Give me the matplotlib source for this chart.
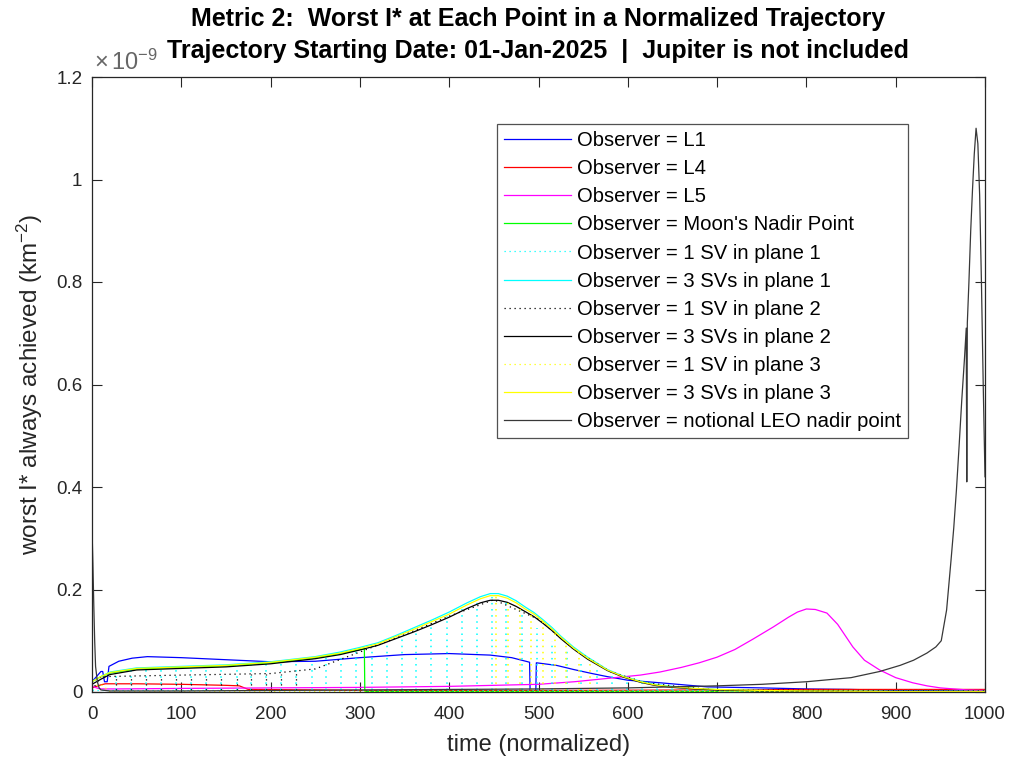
import matplotlib
matplotlib.use("Agg")
import matplotlib.pyplot as plt
import numpy as np

plt.rcParams['font.family'] = ['Liberation Sans', 'DejaVu Sans']
plt.rcParams['mathtext.fontset'] = 'custom'
plt.rcParams['mathtext.rm'] = 'Liberation Sans'
plt.rcParams['mathtext.it'] = 'Liberation Sans:italic'
plt.rcParams['mathtext.bf'] = 'Liberation Sans:bold'

# ---------------- data (values in units of 1e-9 km^-2) ----------------
l1_x = [0, 5, 10, 12, 14, 17, 19, 30, 45, 62, 100, 150, 200, 250, 300, 350, 400, 446, 470, 488,
        490, 490.6, 497, 497.6, 520, 532, 539, 560, 577, 600, 636, 689, 750, 800, 850, 900, 1000]
l1_y = [0.02, 0.03, 0.04, 0.04, 0.02, 0.02, 0.05, 0.060, 0.066, 0.069, 0.067, 0.063, 0.059, 0.060,
        0.067, 0.073, 0.075, 0.072, 0.067, 0.059, 0.058, 0.002, 0.002, 0.057, 0.052, 0.047, 0.044,
        0.036, 0.030, 0.023, 0.018, 0.010, 0.008, 0.006, 0.005, 0.003, 0.002]

l4_x = [0, 10, 15, 50, 100, 150, 165, 175, 250, 300, 500, 700, 800, 900, 1000]
l4_y = [0.008, 0.014, 0.016, 0.016, 0.015, 0.013, 0.012, 0.005, 0.004, 0.003, 0.003, 0.004,
        0.005, 0.005, 0.005]

l5_x = [0, 5, 10, 30, 100, 200, 300, 400, 450, 500, 540, 580, 614, 636, 660, 680, 700, 720,
        740, 763, 780, 790, 800, 810, 823, 835, 852, 865, 882, 900, 919, 935, 950, 980, 1000]
l5_y = [0.012, 0.008, 0.006, 0.006, 0.007, 0.008, 0.009, 0.011, 0.013, 0.015, 0.020, 0.027,
        0.033, 0.039, 0.048, 0.057, 0.068, 0.083, 0.103, 0.127, 0.146, 0.156, 0.162, 0.161,
        0.154, 0.132, 0.088, 0.062, 0.043, 0.028, 0.018, 0.012, 0.008, 0.004, 0.003]

moon_x = [0, 10, 20, 50, 100, 150, 200, 250, 278, 300, 305, 305.5, 400, 500, 600, 700, 701, 1000]
moon_y = [0.02, 0.03, 0.037, 0.045, 0.048, 0.051, 0.057, 0.067, 0.075, 0.083, 0.084, 0.001,
          0.001, 0.001, 0.001, 0.001, 0.0, 0.0]

env_x = [0, 5, 10, 20, 50, 100, 150, 200, 250, 278, 300, 320, 340, 360, 380, 400, 420, 435,
         446, 455, 465, 475, 485, 495, 505, 515, 525, 539, 555, 577, 595, 614, 630, 650, 675,
         700, 750, 800, 900, 1000]
sv3p3_y = [0.020, 0.025, 0.030, 0.038, 0.046, 0.049, 0.052, 0.058, 0.068, 0.076, 0.085, 0.094,
           0.108, 0.122, 0.137, 0.152, 0.170, 0.182, 0.188, 0.188, 0.183, 0.174, 0.162, 0.152,
           0.138, 0.123, 0.107, 0.086, 0.066, 0.043, 0.030, 0.020, 0.014, 0.010, 0.007, 0.005,
           0.003, 0.002, 0.001, 0.001]
sv3p2_y = [0.015, 0.020, 0.025, 0.034, 0.043, 0.046, 0.049, 0.055, 0.065, 0.073, 0.082, 0.091,
           0.104, 0.117, 0.131, 0.146, 0.163, 0.174, 0.179, 0.179, 0.175, 0.167, 0.157, 0.147,
           0.134, 0.120, 0.104, 0.084, 0.064, 0.042, 0.029, 0.019, 0.013, 0.009, 0.006, 0.004,
           0.002, 0.002, 0.001, 0.001]
sv3p1_y = [0.020, 0.025, 0.030, 0.039, 0.047, 0.050, 0.053, 0.059, 0.069, 0.078, 0.087, 0.096,
           0.110, 0.125, 0.140, 0.156, 0.174, 0.186, 0.192, 0.192, 0.187, 0.178, 0.166, 0.155,
           0.141, 0.126, 0.109, 0.088, 0.068, 0.044, 0.031, 0.021, 0.015, 0.011, 0.007, 0.005,
           0.003, 0.002, 0.001, 0.001]

# 1 SV in plane 1 (cyan dotted): rapid oscillation between baseline and spike tops
sv1p1_x = [0, 1000]
sv1p1_y = [0.003, 0.003]
sv1p1_spk_x = [27, 44, 61, 77, 94, 111, 128, 145, 162, 178, 195, 212, 229, 246, 262, 279, 296,
               313, 330, 347, 363, 380, 397, 414, 431, 448, 464, 481, 498, 515, 532, 548, 565,
               582, 599, 616, 633, 649, 666, 683]
sv1p1_spk_top = [0.036, 0.042, 0.045, 0.046, 0.047, 0.048, 0.049, 0.050, 0.052, 0.053, 0.055,
                 0.058, 0.061, 0.065, 0.070, 0.076, 0.082, 0.089, 0.099, 0.110, 0.120, 0.133,
                 0.148, 0.162, 0.177, 0.186, 0.182, 0.160, 0.125, 0.100, 0.080, 0.060, 0.045,
                 0.036, 0.027, 0.020, 0.015, 0.011, 0.008, 0.006]

# 1 SV in plane 2 (black dotted)
sv1p2_x = [0, 10, 100, 200, 250, 300, 350, 400, 450, 500, 540, 580, 620, 660, 700, 1000]
sv1p2_y = [0.003, 0.030, 0.033, 0.036, 0.045, 0.078, 0.112, 0.148, 0.180, 0.142, 0.083, 0.040,
           0.018, 0.010, 0.004, 0.002]
sv1p2_spk_x = [27, 44, 61, 77, 94, 111, 128, 145, 162, 178, 195, 212, 229]
sv1p2_spk_top = [0.030, 0.031, 0.031, 0.032, 0.032, 0.033, 0.033, 0.034, 0.034, 0.035, 0.035,
                 0.036, 0.040]

# 1 SV in plane 3 (yellow dotted)
sv1p3_x = [0, 10, 20, 1000]
sv1p3_y = [0.01, 0.015, 0.001, 0.001]
sv1p3_spk_x = [452, 466, 479, 492, 505, 518, 531, 545, 558]
sv1p3_spk_top = [0.187, 0.182, 0.170, 0.155, 0.138, 0.120, 0.100, 0.080, 0.062]

leo_x = [0, 1, 2, 3, 4, 6, 8, 10, 20, 100, 200, 300, 400, 500, 600, 700, 750, 800, 850, 882,
         905, 920, 935, 945, 951, 957, 962, 965, 968, 971, 974, 977, 979, 979.6, 980.2, 982,
         984, 986, 988, 990, 992, 994, 996, 998, 1000]
leo_y = [0.32, 0.25, 0.17, 0.10, 0.05, 0.02, 0.008, 0.004, 0.002, 0.002, 0.003, 0.004, 0.005,
         0.006, 0.008, 0.012, 0.015, 0.020, 0.028, 0.040, 0.052, 0.062, 0.076, 0.088, 0.100,
         0.160, 0.258, 0.320, 0.394, 0.480, 0.570, 0.650, 0.710, 0.410, 0.720, 0.800, 0.900,
         0.980, 1.050, 1.100, 1.070, 0.970, 0.800, 0.600, 0.420]

labels = ["Observer = L1", "Observer = L4", "Observer = L5", "Observer = Moon's Nadir Point",
          "Observer = 1 SV in plane 1", "Observer = 3 SVs in plane 1",
          "Observer = 1 SV in plane 2", "Observer = 3 SVs in plane 2",
          "Observer = 1 SV in plane 3", "Observer = 3 SVs in plane 3",
          "Observer = notional LEO nadir point"]

x_ticks = [0, 100, 200, 300, 400, 500, 600, 700, 800, 900, 1000]
y_ticks = [0, 0.2, 0.4, 0.6, 0.8, 1.0, 1.2]
y_tick_labels = ["0", "0.2", "0.4", "0.6", "0.8", "1", "1.2"]

# ---------------- figure ----------------
fig = plt.figure(figsize=(10.11, 7.68), dpi=100)
ax = fig.add_axes([92 / 1011, 1 - 692 / 768, 893 / 1011, 615 / 768])

lw = 0.9
dot = (0, (1.0, 3.0))
handles = []
handles += ax.plot(l1_x, l1_y, color=(0, 0, 1), lw=lw, label=labels[0])
handles += ax.plot(l4_x, l4_y, color=(1, 0, 0), lw=lw, label=labels[1])
handles += ax.plot(l5_x, l5_y, color=(1, 0, 1), lw=lw, label=labels[2])
handles += ax.plot(moon_x, moon_y, color=(0, 1, 0), lw=lw, label=labels[3])
handles += ax.plot(sv1p1_x, sv1p1_y, color=(0, 1, 1), lw=lw, ls=dot, label=labels[4])
ax.vlines(sv1p1_spk_x, 0.003, sv1p1_spk_top, colors=[(0, 1, 1)], lw=1.1, linestyles=[dot])
handles += ax.plot(env_x, sv3p1_y, color=(0, 1, 1), lw=lw, label=labels[5])
handles += ax.plot(sv1p2_x, sv1p2_y, color='k', lw=lw, ls=dot, label=labels[6])
ax.vlines(sv1p2_spk_x, 0.003, sv1p2_spk_top, colors=['k'], lw=lw, linestyles=[dot])
handles += ax.plot(env_x, sv3p2_y, color='k', lw=lw, label=labels[7])
handles += ax.plot(sv1p3_x, sv1p3_y, color=(1, 1, 0), lw=lw, ls=dot, label=labels[8])
ax.vlines(sv1p3_spk_x, 0.003, sv1p3_spk_top, colors=[(1, 1, 0)], lw=1.1, linestyles=[dot])
handles += ax.plot(env_x, sv3p3_y, color=(1, 1, 0), lw=lw, label=labels[9])
handles += ax.plot(leo_x, leo_y, color=(0.22, 0.22, 0.22), lw=lw, label=labels[10])

ax.set_xlim(0, 1000)
ax.set_ylim(0, 1.2)
ax.set_xticks(x_ticks)
ax.set_yticks(y_ticks)
ax.set_yticklabels(y_tick_labels)
axc = (0.15, 0.15, 0.15)
ax.tick_params(direction='in', length=7, width=0.8, top=True, right=True,
               labelsize=13.5, colors=axc)
ax.tick_params(axis='x', pad=10)
ax.tick_params(axis='y', pad=7)
for s in ax.spines.values():
    s.set_color(axc)
    s.set_linewidth(0.9)

ax.set_xlabel("time (normalized)", fontsize=17, color=axc, labelpad=8)
ax.set_ylabel("worst I* always achieved (km$^{-2}$)", fontsize=17.5, color=axc, labelpad=8)
ax.text(0.002, 1.004, r"$\times\,10^{-9}$", transform=ax.transAxes, fontsize=17,
        color=(0.4, 0.4, 0.4), ha='left', va='bottom')

fig.text(538 / 1011, 1 - 19 / 768,
         "Metric 2:  Worst I* at Each Point in a Normalized Trajectory",
         ha='center', va='center', fontsize=18, fontweight='bold', color='k')
fig.text(538 / 1011, 1 - 51 / 768,
         "Trajectory Starting Date: 01-Jan-2025  |  Jupiter is not included",
         ha='center', va='center', fontsize=18, fontweight='bold', color='k')

leg = ax.legend(handles=handles, loc='upper left',
                bbox_to_anchor=(497 / 1011, 1 - 124 / 768), bbox_transform=fig.transFigure,
                borderaxespad=0, fontsize=14.6, frameon=True, fancybox=False,
                edgecolor=axc, handlelength=3.3, handletextpad=0.3, labelspacing=0.45,
                borderpad=0.35)
leg.get_frame().set_linewidth(0.9)

fig.savefig("out.png", dpi=100)
